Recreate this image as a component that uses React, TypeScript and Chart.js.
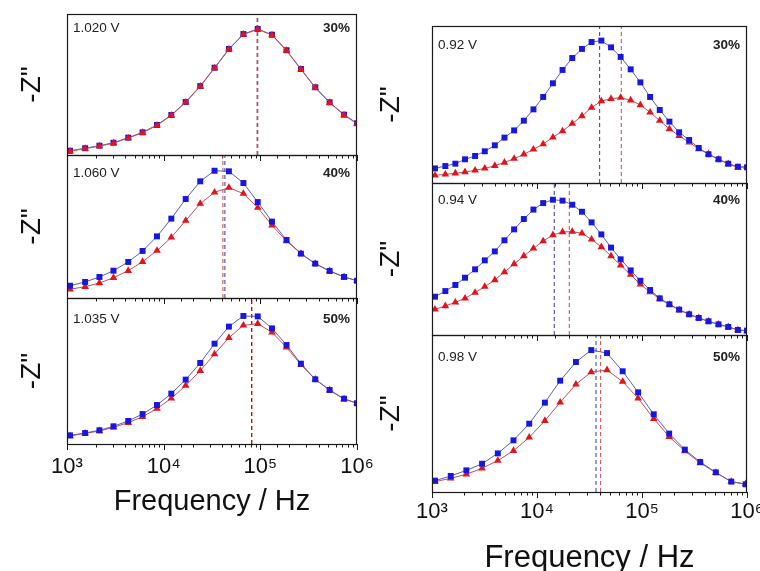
import React, { useEffect, useRef } from "react";
import { Chart, registerables } from "chart.js";

Chart.register(...registerables);

const FONT = '"Liberation Sans", Arial, Helvetica, sans-serif';

// ---------- data ----------
const LEFT_FREQ = [1075, 1540, 2165, 3025, 4300, 6050, 8530, 12000, 16900, 23900, 33600, 47300, 66800, 94000, 132000, 186600, 263000, 370000, 521000, 734000, 1000000];
const L1_BLUE = [3.0, 4.8, 6.6, 8.7, 12.3, 16.1, 21.3, 28.4, 37.6, 48.9, 61.9, 75.2, 85.8, 89.4, 85.3, 74.3, 61.0, 48.0, 37.4, 28.6, 22.5];
const L1_RED = [2.7, 4.5, 6.3, 8.4, 12.0, 15.8, 21.0, 28.1, 37.3, 48.6, 61.6, 74.9, 85.5, 89.1, 85.0, 74.0, 60.7, 47.7, 37.1, 28.3, 22.2];
const L2_BLUE = [8.6, 11.2, 14.7, 19.1, 25.2, 32.9, 43.1, 55.5, 69.2, 81.6, 89.0, 88.6, 80.4, 67.1, 53.4, 40.6, 31.0, 24.0, 18.9, 14.7, 12.1];
const L2_RED = [6.1, 7.9, 10.5, 14.2, 19.1, 25.4, 33.1, 42.4, 54.1, 66.0, 73.9, 77.2, 73.0, 63.2, 50.8, 39.9, 31.0, 24.0, 18.9, 14.7, 12.1];
const L3_BLUE = [5.9, 7.5, 9.4, 12.1, 15.8, 20.5, 26.7, 34.5, 44.1, 55.5, 68.7, 80.4, 87.7, 87.4, 79.2, 67.8, 55.0, 44.3, 37.0, 31.0, 27.9];
const L3_RED = [5.5, 7.3, 8.9, 11.4, 14.6, 18.7, 24.2, 31.3, 40.0, 50.2, 61.6, 72.8, 81.3, 82.4, 76.5, 66.2, 54.3, 44.3, 36.8, 30.8, 27.9];

const RIGHT_FREQ = [1068, 1340, 1669, 2063, 2572, 3182, 3966, 4897, 6056, 7491, 9250, 11450, 14180, 17510, 21660, 26800, 33100, 41000, 50700, 62600, 78000, 96500, 119400, 147600, 182500, 225800, 281300, 347200, 430200, 535900, 663200, 819000, 1000000];
const R1_BLUE = [9.3, 10.8, 12.3, 15.1, 17.2, 20.2, 24.0, 28.9, 33.5, 39.7, 46.9, 54.8, 63.5, 72.0, 79.6, 85.4, 89.8, 90.7, 86.4, 80.3, 72.4, 64.1, 54.8, 46.5, 39.1, 32.3, 27.4, 22.3, 18.3, 15.1, 12.3, 10.4, 10.0];
const R1_RED = [4.9, 5.5, 6.2, 7.0, 8.1, 9.3, 11.0, 13.1, 15.5, 18.3, 21.4, 24.8, 29.1, 33.1, 37.8, 42.7, 48.0, 52.2, 53.7, 54.4, 52.7, 49.7, 45.0, 39.7, 34.4, 30.1, 25.9, 21.7, 18.5, 15.1, 12.1, 9.8, 10.5];
const R2_BLUE = [25.2, 28.9, 32.9, 37.7, 43.2, 49.1, 55.0, 62.3, 69.5, 76.3, 82.5, 86.8, 89.0, 88.4, 85.7, 81.1, 74.1, 66.2, 57.5, 49.8, 42.5, 35.7, 29.6, 24.1, 20.2, 16.7, 13.6, 11.2, 9.0, 7.0, 5.3, 3.3, 2.9];
const R2_RED = [16.9, 19.1, 21.5, 24.1, 27.9, 31.8, 36.2, 41.4, 46.7, 52.0, 57.0, 61.8, 65.8, 67.8, 68.0, 66.9, 62.9, 57.9, 52.0, 45.8, 39.7, 33.3, 28.3, 23.7, 20.0, 16.4, 13.6, 11.2, 9.0, 7.0, 5.3, 3.3, 2.6];
const R3_FREQ = [1068, 1508, 2125, 2997, 4234, 5970, 8430, 11890, 16630, 23490, 32880, 46430, 65450, 91830, 129400, 181500, 255900, 358600, 504700, 708000, 970000];
const R3_BLUE = [7.2, 10.2, 13.8, 18.0, 24.6, 32.9, 43.5, 56.9, 70.9, 82.8, 90.4, 88.5, 76.9, 63.5, 49.5, 37.2, 27.0, 19.1, 12.5, 6.6, 4.9];
const R3_RED = [6.6, 8.7, 11.3, 15.1, 20.0, 26.3, 34.8, 45.4, 57.1, 68.6, 76.4, 77.7, 70.3, 59.7, 46.7, 35.2, 26.1, 18.5, 12.3, 6.6, 5.1];

const LEFT_PEAK_BLUE = [94000, 43000, 81000];
const LEFT_PEAK_RED = [92500, 41000, 82000];
const RIGHT_PEAK_BLUE = [39500, 14600, 36500];
const RIGHT_PEAK_RED = [63500, 20300, 40400];

const LEFT_VOLTAGES = ["1.020 V", "1.060 V", "1.035 V"];
const RIGHT_VOLTAGES = ["0.92 V", "0.94 V", "0.98 V"];
const PERCENTS = ["30%", "40%", "50%"];

const X_TICK_VALUES = [1000, 10000, 100000, 1000000];
const X_TICK_LABELS = ["10\u00B3", "10\u2074", "10\u2075", "10\u2076"];
const X_TITLE = "Frequency / Hz";
const Y_TITLE = '-Z"';

// ---------- styles ----------
const BLUE = "#1717e0";
const BLUE_LINE = "#5d5db0";
const RED = "#e3121c";
const RED_LINE = "#c05058";
const BLUE_DASH = "#3a3a90";
const RED_DASH = "#c84848";

type Spec = {
  cl: number; ct: number; cw: number; ch: number;
  padTop: number; padRight: number; yWidth: number; xHeight: number;
  freq: number[]; blue: number[]; red: number[];
  peakBlue: number; peakRed: number;
  voltage: string; percent: string;
  bottom: boolean; blueOnTop: boolean;
  yTitlePad: number; tickPad: number; tickSize: number; xTitleSize: number; xTitlePad: number;
  textY: number;
};

const framePlugin = {
  id: "panelFrame",
  afterDraw(chart: any, _args: any, opts: any) {
    const { ctx, chartArea: a, scales } = chart;
    const xs = scales.x;
    ctx.save();
    ctx.strokeStyle = "#1a1a1a";
    ctx.lineWidth = 1;
    for (const t of xs.ticks) {
      const px = Math.round(xs.getPixelForValue(t.value)) + 0.5;
      const lg = Math.log10(t.value);
      const major = Math.abs(lg - Math.round(lg)) < 1e-6;
      const len = major ? 6 : 3.5;
      ctx.beginPath();
      ctx.moveTo(px, a.bottom);
      ctx.lineTo(px, a.bottom + len);
      ctx.stroke();
    }
    ctx.lineWidth = 1.2;
    ctx.strokeRect(a.left + 0.5, a.top + 0.5, a.right - a.left - 1, a.bottom - a.top);
    ctx.fillStyle = "#222";
    ctx.textBaseline = "middle";
    ctx.font = `13.5px ${FONT}`;
    ctx.textAlign = "left";
    ctx.fillText(opts.voltage, a.left + 6, a.top + opts.textY);
    ctx.font = `bold 13.5px ${FONT}`;
    ctx.textAlign = "right";
    ctx.fillText(opts.percent, a.right - 7, a.top + opts.textY);
    ctx.restore();
  },
};

function Panel({ s }: { s: Spec }) {
  const ref = useRef<HTMLCanvasElement>(null);
  useEffect(() => {
    const pts = (v: number[]) => s.freq.map((x, i) => ({ x, y: v[i] }));
    const blueDs: any = {
      data: pts(s.blue), borderColor: BLUE_LINE, borderWidth: 1, tension: 0,
      pointStyle: "rect", pointRadius: 4.2, pointBackgroundColor: BLUE,
      pointBorderColor: BLUE, pointBorderWidth: 0,
    };
    const redDs: any = {
      data: pts(s.red), borderColor: RED_LINE, borderWidth: 1, tension: 0,
      pointStyle: "triangle", pointRadius: 4.4, pointBackgroundColor: RED,
      pointBorderColor: RED, pointBorderWidth: 0,
    };
    const vline = (f: number, c: string): any => ({
      data: [{ x: f, y: 0 }, { x: f, y: 100 }], borderColor: c, borderWidth: 1,
      borderDash: [4, 3], pointRadius: 0,
    });
    const datasets = s.blueOnTop
      ? [redDs, blueDs, vline(s.peakRed, RED_DASH), vline(s.peakBlue, BLUE_DASH)]
      : [blueDs, redDs, vline(s.peakBlue, BLUE_DASH), vline(s.peakRed, RED_DASH)];
    const chart = new Chart(ref.current!, {
      type: "line",
      data: { datasets },
      options: {
        animation: false,
        responsive: false,
        devicePixelRatio: 1,
        events: [],
        layout: { padding: { top: s.padTop, right: s.padRight, left: 0, bottom: 0 } },
        plugins: {
          legend: { display: false },
          tooltip: { enabled: false },
          panelFrame: { voltage: s.voltage, percent: s.percent, textY: s.textY },
        } as any,
        scales: {
          x: {
            type: "logarithmic",
            min: 1000,
            max: 1000000,
            grid: { display: false, drawTicks: false },
            border: { display: false },
            ticks: {
              display: s.bottom,
              autoSkip: false,
              maxRotation: 0,
              minRotation: 0,
              padding: s.tickPad,
              color: "#111",
              font: { family: FONT, size: s.tickSize },
              callback: (value: any) => {
                const i = X_TICK_VALUES.findIndex((v) => Math.abs(v - Number(value)) < v * 1e-6);
                return i >= 0 ? X_TICK_LABELS[i] : "";
              },
            },
            title: {
              display: s.bottom,
              text: X_TITLE,
              color: "#111",
              font: { family: FONT, size: s.xTitleSize },
              padding: { top: 0, bottom: s.xTitlePad },
            },
            afterFit: (sc: any) => { sc.height = s.xHeight; },
          },
          y: {
            min: 0,
            max: 100,
            grid: { display: false, drawTicks: false },
            border: { display: false },
            ticks: { display: false },
            title: {
              display: true,
              text: Y_TITLE,
              color: "#111",
              font: { family: FONT, size: 28 },
              padding: { top: s.yTitlePad, bottom: 0 },
            },
            afterFit: (sc: any) => { sc.width = s.yWidth; },
          },
        },
      } as any,
      plugins: [framePlugin as any],
    });
    return () => chart.destroy();
  }, []);
  return (
    <canvas
      ref={ref}
      width={s.cw}
      height={s.ch}
      style={{ position: "absolute", left: s.cl, top: s.ct, width: s.cw, height: s.ch }}
    />
  );
}

const LEFT_DATA = [
  [L1_BLUE, L1_RED],
  [L2_BLUE, L2_RED],
  [L3_BLUE, L3_RED],
];
const RIGHT_DATA = [
  [RIGHT_FREQ, R1_BLUE, R1_RED],
  [RIGHT_FREQ, R2_BLUE, R2_RED],
  [R3_FREQ, R3_BLUE, R3_RED],
];

// panel geometry: [canvasTop, padTop, canvasHeight, xHeight, textY]
const LEFT_GEOM = [
  [0, 14, 165, 10, 14],
  [145, 10, 163, 10, 18],
  [288, 10, 231, 75, 21],
];
const RIGHT_GEOM = [
  [0, 26, 193, 10, 19],
  [173, 10, 172, 10, 17],
  [325, 10, 252, 85, 22],
];

const SPECS: Spec[] = [
  ...LEFT_GEOM.map((g, i) => ({
    cl: 0, ct: g[0], cw: 420, ch: g[2], padTop: g[1], padRight: 63, yWidth: 67, xHeight: g[3],
    freq: LEFT_FREQ, blue: LEFT_DATA[i][0], red: LEFT_DATA[i][1],
    peakBlue: LEFT_PEAK_BLUE[i], peakRed: LEFT_PEAK_RED[i],
    voltage: LEFT_VOLTAGES[i], percent: PERCENTS[i],
    bottom: i === 2, blueOnTop: i === 0,
    yTitlePad: 15.2, tickPad: 10, tickSize: 22, xTitleSize: 29, xTitlePad: 0, textY: g[4],
  })),
  ...RIGHT_GEOM.map((g, i) => ({
    cl: 360, ct: g[0], cw: 420, ch: g[2], padTop: g[1], padRight: 33, yWidth: 72, xHeight: g[3],
    freq: RIGHT_DATA[i][0], blue: RIGHT_DATA[i][1], red: RIGHT_DATA[i][2],
    peakBlue: RIGHT_PEAK_BLUE[i], peakRed: RIGHT_PEAK_RED[i],
    voltage: RIGHT_VOLTAGES[i], percent: PERCENTS[i],
    bottom: i === 2, blueOnTop: false,
    yTitlePad: 14.2, tickPad: 7, tickSize: 22, xTitleSize: 31, xTitlePad: 0.4, textY: g[4],
  })),
];

export default function App() {
  return (
    <div style={{ position: "absolute", left: 0, top: 0, width: 760, height: 571, overflow: "hidden", background: "#fff" }}>
      {SPECS.map((s, i) => (
        <Panel key={i} s={s} />
      ))}
    </div>
  );
}
